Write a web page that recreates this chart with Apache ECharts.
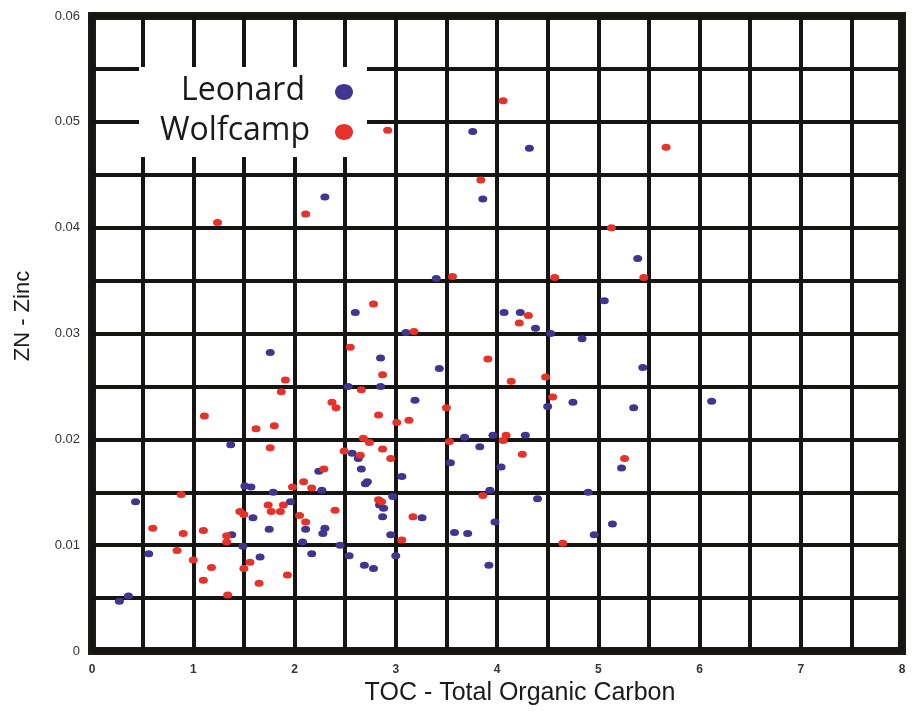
<!DOCTYPE html>
<html>
<head>
<meta charset="utf-8">
<title>ZN - Zinc vs TOC</title>
<script src="https://cdn.jsdelivr.net/npm/echarts@6/dist/echarts.min.js"></script>
<style>
  html, body { margin: 0; padding: 0; background: #ffffff; }
  #chart { width: 913px; height: 711px; }
</style>
</head>
<body>
<div id="chart"></div>
<script>
// Leonard samples: total organic carbon (wt%) and zinc
const leonardTOC = [
  0.27, 0.36, 0.43, 0.56, 1.37, 1.38, 1.49, 1.51, 1.57, 1.59,
  1.66, 1.75, 1.79, 1.96, 2.08, 2.11, 2.17, 2.24, 2.27, 2.28,
  2.30, 2.45, 2.53, 2.85, 3.19, 4.50, 4.75, 3.68, 3.83, 3.96,
  4.28, 2.57, 2.63, 2.66, 2.70, 2.72, 3.06, 3.54, 4.04, 5.23,
  2.97, 2.84, 2.88, 2.87, 3.26, 2.95, 3.93, 3.98, 4.40, 4.90,
  5.14, 4.96, 3.58, 3.71, 2.54, 3.00, 2.69, 2.78, 3.92, 2.30,
  3.86, 3.40, 2.60, 4.07, 4.23, 4.38, 4.53, 4.84, 3.10, 1.76,
  2.85, 3.43, 3.76, 4.32, 5.39, 5.06, 5.44, 6.12, 5.35
];
const leonardZn = [
  0.0047, 0.0052, 0.0141, 0.0092, 0.0195, 0.0110, 0.0099, 0.0156, 0.0155, 0.0126,
  0.0089, 0.0115, 0.0150, 0.0141, 0.0103, 0.0115, 0.0092, 0.0170, 0.0152, 0.0111,
  0.0116, 0.0100, 0.0250, 0.0250, 0.0237, 0.0231, 0.0235, 0.0202, 0.0193, 0.0204,
  0.0204, 0.0187, 0.0182, 0.0172, 0.0158, 0.0160, 0.0165, 0.0178, 0.0174, 0.0173,
  0.0146, 0.0138, 0.0135, 0.0127, 0.0126, 0.0110, 0.0152, 0.0122, 0.0144, 0.0150,
  0.0120, 0.0110, 0.0112, 0.0111, 0.0090, 0.0090, 0.0081, 0.0078, 0.0081, 0.0429,
  0.0427, 0.0352, 0.0320, 0.0320, 0.0320, 0.0305, 0.0300, 0.0295, 0.0301, 0.0282,
  0.0277, 0.0267, 0.0491, 0.0475, 0.0371, 0.0331, 0.0268, 0.0236, 0.0230
];

// Wolfcamp samples
const wolfcampTOC = [
  1.87, 1.11, 1.62, 1.80, 1.76, 2.37, 2.41, 0.88, 0.60, 0.90,
  1.10, 1.33, 1.33, 0.84, 1.00, 1.18, 1.10, 1.34, 1.50, 1.56,
  1.65, 1.93, 1.46, 1.50, 1.74, 1.77, 1.86, 1.89, 1.98, 2.09,
  2.17, 2.29, 2.05, 2.11, 2.40, 2.66, 4.14, 4.48, 2.83, 3.01,
  3.13, 3.50, 4.55, 2.68, 2.74, 2.49, 2.65, 2.87, 2.95, 3.53,
  4.09, 4.06, 4.25, 5.26, 2.83, 2.86, 3.17, 3.06, 3.86, 4.65,
  1.24, 2.11, 3.84, 3.56, 4.57, 2.78, 4.31, 4.22, 3.18, 2.55,
  3.91, 2.87, 1.91, 4.06, 2.92, 5.67, 5.13, 5.45
];
const wolfcampZn = [
  0.0245, 0.0222, 0.0210, 0.0213, 0.0192, 0.0235, 0.0230, 0.0148, 0.0116, 0.0111,
  0.0114, 0.0109, 0.0103, 0.0095, 0.0086, 0.0079, 0.0067, 0.0053, 0.0078, 0.0084,
  0.0064, 0.0072, 0.0132, 0.0129, 0.0138, 0.0132, 0.0132, 0.0138, 0.0155, 0.0160,
  0.0154, 0.0172, 0.0128, 0.0122, 0.0133, 0.0247, 0.0255, 0.0259, 0.0223, 0.0216,
  0.0218, 0.0230, 0.0240, 0.0201, 0.0197, 0.0189, 0.0185, 0.0191, 0.0182, 0.0198,
  0.0204, 0.0199, 0.0186, 0.0182, 0.0143, 0.0141, 0.0127, 0.0105, 0.0147, 0.0102,
  0.0405, 0.0413, 0.0445, 0.0354, 0.0353, 0.0328, 0.0317, 0.0310, 0.0302, 0.0287,
  0.0276, 0.0261, 0.0256, 0.0520, 0.0492, 0.0476, 0.0400, 0.0353
];

const seriesNames = ['Leonard', 'Wolfcamp'];
const seriesColors = ['#40358f', '#e6322b'];

const xTicks = { min: 0, max: 8, step: 1 };
const yTicks = { min: 0, max: 0.06, step: 0.01 };

const zip = (xs, ys) => xs.map((x, i) => [x, ys[i]]);

const chart = echarts.init(document.getElementById('chart'), null, { renderer: 'canvas' });

const gridLine = { show: true, lineStyle: { color: '#161513', width: 4, type: 'solid' } };

const option = {
  animation: false,
  backgroundColor: '#ffffff',
  grid: {
    left: 92, right: 11, top: 16, bottom: 58,
    show: true,
    borderColor: '#1b1a17',
    borderWidth: 8,
    backgroundColor: 'transparent'
  },
  xAxis: {
    type: 'value',
    min: xTicks.min, max: xTicks.max, interval: xTicks.step,
    axisLine: { show: false },
    axisTick: { show: false },
    splitLine: gridLine,
    minorTick: { show: false, splitNumber: 2 },
    minorSplitLine: gridLine,
    axisLabel: {
      margin: 13,
      color: '#333333',
      fontFamily: 'Liberation Sans',
      fontSize: 12,
      fontWeight: 'bold',
      formatter: v => String(Math.round(v))
    },
    name: 'TOC - Total Organic Carbon',
    nameLocation: 'middle',
    nameGap: 27,
    nameTextStyle: {
      color: '#1a1a1a',
      fontFamily: 'Liberation Sans',
      fontSize: 25,
      padding: [0, 0, 0, 46]
    }
  },
  yAxis: {
    type: 'value',
    min: yTicks.min, max: yTicks.max, interval: yTicks.step,
    axisLine: { show: false },
    axisTick: { show: false },
    splitLine: gridLine,
    minorTick: { show: false, splitNumber: 2 },
    minorSplitLine: gridLine,
    axisLabel: {
      margin: 12,
      color: '#333333',
      fontFamily: 'Liberation Sans',
      fontSize: 13,
      formatter: v => (v === 0 ? '0' : v.toFixed(2))
    },
    name: 'ZN - Zinc',
    nameLocation: 'middle',
    nameGap: 58,
    nameRotate: 90,
    nameTextStyle: {
      color: '#1a1a1a',
      fontFamily: 'Liberation Sans',
      fontSize: 22,
      padding: [0, 0, 0, 35]
    }
  },
  series: [
    {
      name: seriesNames[0],
      type: 'scatter',
      symbol: 'circle',
      symbolSize: [9, 7],
      itemStyle: { color: seriesColors[0], opacity: 1 },
      z: 3,
      data: zip(leonardTOC, leonardZn)
    },
    {
      name: seriesNames[1],
      type: 'scatter',
      symbol: 'circle',
      symbolSize: [9, 7],
      itemStyle: { color: seriesColors[1], opacity: 1 },
      z: 3,
      data: zip(wolfcampTOC, wolfcampZn)
    }
  ],
  // Legend panel drawn over the grid in the upper-left cell block
  graphic: [
    {
      type: 'group',
      left: 139,
      top: 67,
      z: 100,
      children: [
        { type: 'rect', shape: { x: 0, y: 0, width: 228, height: 90 }, style: { fill: '#ffffff' }, z: 100 },
        {
          type: 'text', x: 166, y: 24, z: 101,
          style: { text: seriesNames[0], fill: '#1a1a1a', font: '32px "Open Sans"', textAlign: 'right', textVerticalAlign: 'middle' }
        },
        {
          type: 'text', x: 171, y: 64, z: 101,
          style: { text: seriesNames[1], fill: '#1a1a1a', font: '32px "Open Sans"', textAlign: 'right', textVerticalAlign: 'middle' }
        },
        { type: 'ellipse', shape: { cx: 205, cy: 25, rx: 9, ry: 8 }, style: { fill: seriesColors[0] }, z: 101 },
        { type: 'ellipse', shape: { cx: 205, cy: 65, rx: 9, ry: 8 }, style: { fill: seriesColors[1] }, z: 101 }
      ]
    }
  ]
};

chart.setOption(option);
</script>
</body>
</html>
